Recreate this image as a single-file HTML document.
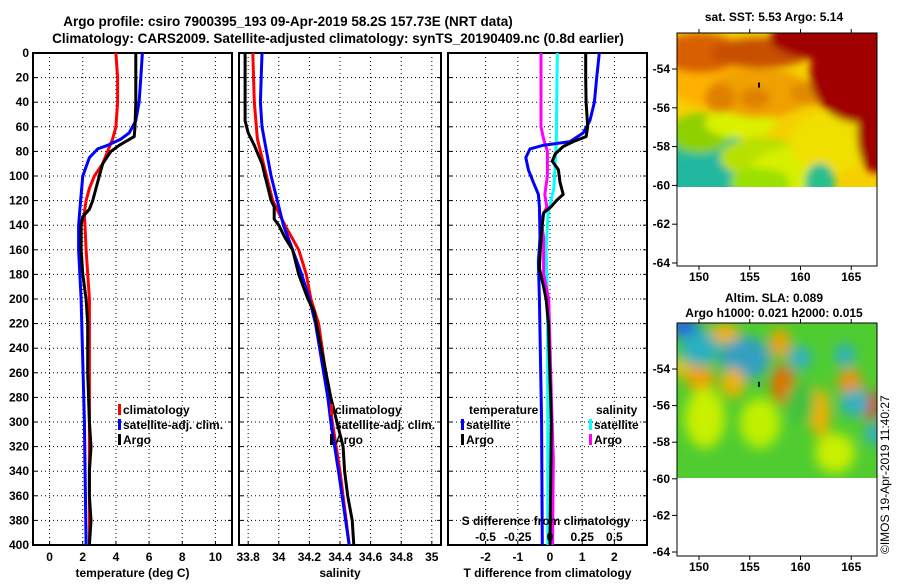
<!DOCTYPE html>
<html><head><meta charset="utf-8">
<style>
body{margin:0;background:#fff;width:900px;height:580px;overflow:hidden;font-family:"Liberation Sans",sans-serif;}
svg text{font-family:"Liberation Sans",sans-serif;font-weight:bold;font-size:12px;fill:#000;}
</style></head>
<body>
<svg id="chart" width="900" height="580" viewBox="0 0 900 580" xmlns="http://www.w3.org/2000/svg">
<defs>
<filter id="blur6" x="-20%" y="-20%" width="140%" height="140%"><feGaussianBlur stdDeviation="6"/></filter>
<filter id="blur4" x="-20%" y="-20%" width="140%" height="140%"><feGaussianBlur stdDeviation="4"/></filter>
<clipPath id="clipTop"><rect x="677" y="33" width="200" height="154"/></clipPath>
<clipPath id="clipBot"><rect x="677" y="323" width="200" height="155"/></clipPath>
</defs>
<text x="288" y="26" text-anchor="middle" style="font-size:13.5px">Argo profile: csiro 7900395_193 09-Apr-2019 58.2S 157.73E (NRT data)</text>
<text x="338" y="43" text-anchor="middle" style="font-size:13.5px">Climatology: CARS2009. Satellite-adjusted climatology: synTS_20190409.nc (0.8d earlier)</text>
<g id="panels"></g>
<g id="maps"></g>
</svg>
<script>
// ---- data ----
var depthTicks=[0,20,40,60,80,100,120,140,160,180,200,220,240,260,280,300,320,340,360,380,400];
var tempTicks=[0,2,4,6,8,10];
var salTicks=[33.8,34,34.2,34.4,34.6,34.8,35];
var tdiffTicks=[-2,-1,0,1,2];
var sdiffTickLabels=["-0.5","-0.25","0","0.25","0.5"];
var sdiffTicks=[-0.5,-0.25,0,0.25,0.5];

var argoTempDepth=[0,20,40,60,68,75,80,90,100,110,120,127,133,140,160,180,200,220,260,300,320,340,360,380,400];
var argoTemp=[5.2,5.2,5.2,5.15,5.1,4.2,3.7,3.2,3.0,2.8,2.6,2.4,2.0,1.9,1.9,2.0,2.2,2.3,2.3,2.4,2.5,2.4,2.4,2.5,2.4];
var climTempDepth=[0,20,40,60,70,80,90,100,110,120,130,160,200,300,400];
var climTemp=[4.0,4.1,4.1,4.0,3.8,3.5,3.2,2.7,2.4,2.2,2.1,2.2,2.4,2.4,2.4];
var satTempDepth=[0,20,40,55,65,70,75,78,85,100,120,140,160,200,300,400];
var satTemp=[5.6,5.5,5.4,5.2,4.8,4.3,3.5,2.9,2.4,2.0,1.87,1.75,1.75,1.9,2.1,2.2];

var argoSalDepth=[0,55,65,75,90,100,110,120,125,130,135,140,150,160,180,200,210,280,320,340,360,380,400];
var argoSal=[33.78,33.78,33.80,33.84,33.89,33.91,33.93,33.95,33.97,33.97,33.97,34.0,34.04,34.09,34.13,34.19,34.23,34.34,34.42,34.43,34.45,34.48,34.49];
var climSalDepth=[0,40,70,90,120,140,160,180,200,220,280,300,340,400];
var climSal=[33.83,33.84,33.86,33.90,33.96,34.04,34.13,34.18,34.21,34.26,34.33,34.35,34.40,34.46];
var satSalDepth=[0,40,60,80,100,120,140,160,180,200,220,280,300,340,400];
var satSal=[33.89,33.88,33.89,33.92,33.95,33.99,34.03,34.09,34.15,34.20,34.24,34.32,34.34,34.39,34.46];

var satTdiffDepth=[0,20,40,55,65,72,75,78,85,95,105,115,125,150,170,200,300,400];
var satTdiff=[1.53,1.45,1.38,1.24,1.03,0.62,-0.21,-0.62,-0.75,-0.67,-0.52,-0.36,-0.33,-0.31,-0.36,-0.33,-0.26,-0.24];
var argoTdiffDepth=[0,20,40,60,68,72,76,82,88,95,105,115,120,125,130,140,160,175,190,200,220,300,400];
var argoTdiff=[1.11,1.11,1.12,1.17,1.12,0.72,0.41,0.16,0.07,0.26,0.31,0.41,0.2,0.03,-0.2,-0.24,-0.3,-0.33,-0.2,-0.12,-0.05,0.04,0.0];
var satSdiffDepth=[0,40,70,90,110,130,160,200,300,400];
var satSdiff=[0.057,0.052,0.05,0.04,0.03,-0.015,-0.03,-0.02,-0.017,-0.017];
var argoSdiffDepth=[0,60,70,80,100,115,125,135,150,180,200,220,300,330,400];
var argoSdiff=[-0.07,-0.07,-0.05,-0.02,-0.02,-0.04,-0.025,-0.07,-0.05,-0.05,-0.01,-0.005,0.016,0.026,0.02];

// ---- helpers ----
var NS="http://www.w3.org/2000/svg";
var root=document.getElementById('panels');
function mk(tag,attrs,parent){var e=document.createElementNS(NS,tag);for(var k in attrs)e.setAttribute(k,attrs[k]);(parent||root).appendChild(e);return e;}
var Y0=53,Y1=545;
function yD(d){return Y0+(d/400)*(Y1-Y0);}
function linMap(d0,d1,p0,p1){return function(v){return p0+(v-d0)/(d1-d0)*(p1-p0);};}
var xT=linMap(-1,11,33,232);
var xS=linMap(33.74,35.06,239,441);
var xTd=linMap(0,1,550,582.2);
var xSd=linMap(0,1,550,678.8);

function panel(name,x0,x1,gridX,xf,labels,ticks,xtitle,showY){
  var g=mk('g',{});
  
  
  mk('rect',{x:x0,y:Y0,width:x1-x0,height:Y1-Y0,fill:'#fff'},g);
  depthTicks.forEach(function(d){
    var y=yD(d);
    if(d>0&&d<400){var l=mk('line',{x1:x0,x2:x1,y1:y,y2:y,stroke:'#000','stroke-width':1,'stroke-dasharray':'1,3'},g);
      }
    mk('line',{x1:x0,x2:x0+4,y1:y,y2:y,stroke:'#000'},g);
    mk('line',{x1:x1-4,x2:x1,y1:y,y2:y,stroke:'#000'},g);
    if(showY){var t=mk('text',{x:x0-4,y:y+4,'text-anchor':'end'},g);t.textContent=d;
      }
  });
  gridX.forEach(function(v){var x=xf(v);
    var l=mk('line',{x1:x,x2:x,y1:Y0,y2:Y1,stroke:'#000','stroke-width':1,'stroke-dasharray':'1,3'},g);
    
    mk('line',{x1:x,x2:x,y1:Y1-4,y2:Y1,stroke:'#000'},g);});
  ticks.forEach(function(v,i){var t=mk('text',{x:xf(v),y:561,'text-anchor':'middle'},g);t.textContent=labels[i];
    });
  var tt=mk('text',{x:(x0+x1)/2,y:577,'text-anchor':'middle'},g);tt.textContent=xtitle;
  
  var fr=mk('rect',{x:x0,y:Y0,width:x1-x0,height:Y1-Y0,fill:'none',stroke:'#000','stroke-width':2},g);
  
  return g;
}
function series(g,name,depths,vals,xf,color){
  var d='';for(var i=0;i<vals.length;i++){d+=(i?'L':'M')+xf(vals[i]).toFixed(1)+','+yD(depths[i]).toFixed(1);}
  var p=mk('path',{d:d,fill:'none',stroke:color,'stroke-width':3,'stroke-linejoin':'round'},g);
  
  
}
function legend(g,name,x,y,color,label){
  var r=mk('rect',{x:x,y:y-10,width:3,height:11,fill:color},g);
  var t=mk('text',{x:x+5,y:y},g);t.textContent=label;
  
}

// Panel 1 temperature
var g1=panel('temperature-panel',33,232,tempTicks,xT,tempTicks.map(String),tempTicks,'temperature (deg C)',true);
series(g1,'temp-climatology-line',climTempDepth,climTemp,xT,'#f00');
series(g1,'temp-satellite-line',satTempDepth,satTemp,xT,'#00f');
series(g1,'temp-argo-line',argoTempDepth,argoTemp,xT,'#000');
legend(g1,'legend-climatology',118,414,'#f00','climatology');
legend(g1,'legend-satellite-adj',118,429,'#00f','satellite-adj. clim.');
legend(g1,'legend-argo',118,444,'#000','Argo');

// Panel 2 salinity
var g2=panel('salinity-panel',239,441,salTicks,xS,salTicks.map(String),salTicks,'salinity',false);
series(g2,'sal-climatology-line',climSalDepth,climSal,xS,'#f00');
series(g2,'sal-satellite-line',satSalDepth,satSal,xS,'#00f');
series(g2,'sal-argo-line',argoSalDepth,argoSal,xS,'#000');
legend(g2,'legend-climatology',330,414,'#f00','climatology');
legend(g2,'legend-satellite-adj',330,429,'#00f','satellite-adj. clim.');
legend(g2,'legend-argo',330,444,'#000','Argo');

// Panel 3 differences
var g3=panel('difference-panel',448,647,tdiffTicks,xTd,tdiffTicks.map(String),tdiffTicks,'T difference from climatology',false);
series(g3,'sdiff-satellite-line',satSdiffDepth,satSdiff,xSd,'#0ff');
series(g3,'sdiff-argo-line',argoSdiffDepth,argoSdiff,xSd,'#f0f');
series(g3,'tdiff-satellite-line',satTdiffDepth,satTdiff,xTd,'#00f');
series(g3,'tdiff-argo-line',argoTdiffDepth,argoTdiff,xTd,'#000');
var lt=mk('text',{x:469,y:414},g3);lt.textContent='temperature';

legend(g3,'legend-t-satellite',461,429,'#00f','satellite');
legend(g3,'legend-t-argo',461,444,'#000','Argo');
var ls=mk('text',{x:596,y:414},g3);ls.textContent='salinity';

legend(g3,'legend-s-satellite',589,429,'#0ff','satellite');
legend(g3,'legend-s-argo',589,444,'#f0f','Argo');
var st=mk('text',{x:546,y:525,'text-anchor':'middle'},g3);st.textContent='S difference from climatology';

sdiffTicks.forEach(function(v,i){var t=mk('text',{x:xSd(v),y:541,'text-anchor':'middle'},g3);t.textContent=sdiffTickLabels[i];
  });

// ---- maps ----
var mroot=document.getElementById('maps');
var latTicks=[-54,-56,-58,-60,-62,-64];
var lonTicks=[150,155,160,165];
function mapAxes(name,top,bottom,imgBottom,y54,latPx,titleLines,titleYs,clipId,blobs,bg,filt){
  var g=mk('g',{},mroot);
  
  
  titleLines.forEach(function(s,i){var t=mk('text',{x:774,y:titleYs[i],'text-anchor':'middle'},g);t.textContent=s;
    });
  var im=mk('g',{'clip-path':'url(#'+clipId+')'},g);
  
  mk('rect',{x:677,y:top,width:200,height:imgBottom-top,fill:bg},im);
  var bg2=mk('g',{filter:'url(#'+filt+')'},im);
  blobs.forEach(function(b){mk('ellipse',{cx:b[0],cy:top+b[1],rx:b[2],ry:b[3],fill:b[4]},bg2);});
  mk('rect',{x:758,y:y54+0.7*latPx,width:2,height:5,fill:'#000'},im);
  latTicks.forEach(function(l){var y=y54+(-54-l)*latPx;
    mk('line',{x1:672,x2:677,y1:y,y2:y,stroke:'#000'},g);
    var t=mk('text',{x:670,y:y+4,'text-anchor':'end'},g);t.textContent=l;
    });
  lonTicks.forEach(function(l){var x=699+(l-150)*10.15;
    mk('line',{x1:x,x2:x,y1:bottom,y2:bottom+4,stroke:'#000'},g);
    mk('line',{x1:x,x2:x,y1:top-4,y2:top,stroke:'#000'},g);
    var t=mk('text',{x:x,y:bottom+15,'text-anchor':'middle'},g);t.textContent=l;
    });
  var fr=mk('rect',{x:677,y:top,width:200,height:bottom-top,fill:'none',stroke:'#000','stroke-width':1},g);
  
}
mapAxes('sst-map',33,266,187,69,19.4,['sat. SST: 5.53 Argo: 5.14'],[21],'clipTop',[
 [700,135,60,40,'#2bbf8e'],[720,150,70,30,'#20b8a0'],[760,125,40,20,'#b7e000'],[790,140,40,25,'#d8f000'],
 [700,100,30,20,'#8fd000'],[740,90,35,15,'#d9f200'],[830,110,40,30,'#f0e000'],
 [720,50,50,25,'#ffb000'],[760,60,50,25,'#f0a000'],[720,65,15,15,'#e08000'],[755,65,15,10,'#e08000'],[810,60,20,12,'#e08a00'],
 [700,20,40,20,'#d86000'],[760,20,50,15,'#c85000'],
 [860,40,50,50,'#a00000'],[830,5,60,22,'#a00000'],[875,100,18,40,'#a00000'],
 [760,150,30,15,'#9ae000'],[820,150,15,20,'#2bbf8e']],'#f5d000','blur4');
mapAxes('sla-map',323,556,478,369,18.3,['Altim. SLA: 0.089','Argo h1000: 0.021 h2000: 0.015'],[302,317],'clipBot',[
 [685,5,15,10,'#2060e0'],[700,25,20,18,'#2ab0c0'],[745,35,15,15,'#1040d0'],[745,35,25,22,'#30a0c0'],
 [800,35,12,12,'#30b0c0'],[845,32,10,12,'#30b0c0'],[725,10,14,10,'#f0b000'],[780,20,10,15,'#f0a000'],
 [700,55,15,12,'#f0a000'],[733,60,12,15,'#f0b000'],[783,62,12,20,'#e07000'],[850,60,12,14,'#f09000'],
 [870,82,12,14,'#d04000'],[855,80,15,14,'#30b0c0'],[820,90,10,25,'#f0b000'],[680,45,10,8,'#f0c000'],
 [705,95,20,30,'#c8f000'],[760,100,20,25,'#c0f000'],[835,130,20,20,'#c8f000'],[800,80,15,20,'#40c040'],
 [875,110,10,12,'#30b0c0']],'#50cc30','blur6');

var cr=mk('text',{x:0,y:0,transform:'translate(889,554) rotate(-90)',style:'font-weight:normal;font-size:12px'},mroot);
cr.textContent='©IMOS 19-Apr-2019 11:40:27';


</script>
</body></html>
